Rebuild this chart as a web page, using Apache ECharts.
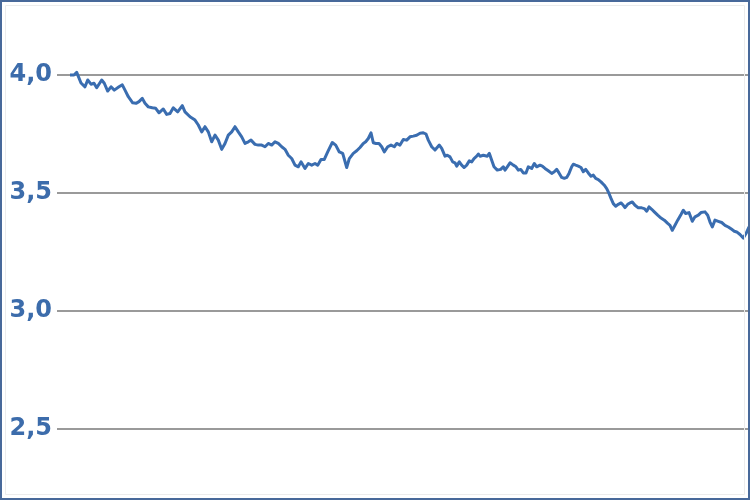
<!DOCTYPE html>
<html>
<head>
<meta charset="utf-8">
<script src="https://cdn.jsdelivr.net/npm/echarts@6/dist/echarts.min.js"></script>
<style>
html,body{margin:0;padding:0;background:#fff;}
#chart{width:750px;height:500px;}
</style>
</head>
<body>
<div id="chart"></div>
<script>
// time index (trading days) and values
const days = [13,17,19.7,24,28,30.7,34,37,39.7,44.7,47.3,50.7,54,57.3,62,65.3,68,71.3,75.7,79,82,85.3,88,91.3,95.3,98.7,102,106.3,109.7,113,116.3,120.7,125.3,
128,133,138,141.3,144.7,148,151.3,154.7,158,161.3,164.7,168,171.3,174.7,178,181.3,184.7,188,191.3,194,198,201.3,204.7,208,211.3,214.7,218,221.3,224.7,228,231.3,234.7,238,
241.3,244,248,251.3,254.7,258,260.7,264,267.3,270.7,275.3,278.7,282.3,285.7,289.7,292.3,296.3,299.7,303,306.3,308.7,311.3,314,316.3,319,322,324.7,327.3,330.7,334,337.3,339.7,343,346.3,349.7,353,356.3,
359.7,363,366.3,369,371.3,374.7,378,379.7,382.3,384.7,388,390.3,393,395.7,398,399.7,402.3,404.7,407,409.7,412.3,414.7,417,419.7,421.3,423,426.3,430.3,432.3,434.7,437,440.3,443.7,446.3,448,450.3,453,456.3,459,461.3,463.7,466.3,469,471.3,
473,474.7,477.3,479.7,483,485.3,488,491.3,494.7,497.3,499.7,502,504.7,507.3,509.7,512,514.7,516.3,518.7,521.3,524,526.3,528.7,531.3,534,536.3,538.7,541.3,544,547.3,549.7,552,554,556.3,558.7,561.3,564,566.3,568,570.7,573,575.3,578,
581.3,584.7,587.3,589.7,592,594.7,597.3,600.7,604,607.3,610.7,613,615.3,618,620.7,624,626.3,628.7,632,635.3,638,641.3,644,648,650.7,653,655.3,658,661.3,664.7,668,671.3,674.7,677.3,679.7,683,686.3,689,692];
const values = [4.000,4.000,4.011,3.966,3.950,3.979,3.961,3.965,3.946,3.979,3.965,3.932,3.950,3.936,3.950,3.958,3.936,3.908,3.882,3.880,3.887,3.901,3.880,3.865,3.861,3.859,3.840,3.856,3.833,3.837,3.861,3.844,3.870,
3.844,3.823,3.809,3.788,3.759,3.781,3.759,3.717,3.745,3.724,3.685,3.710,3.745,3.759,3.781,3.759,3.738,3.710,3.717,3.724,3.706,3.703,3.703,3.696,3.710,3.703,3.717,3.710,3.696,3.685,3.660,3.646,3.618,
3.611,3.632,3.604,3.625,3.618,3.625,3.618,3.642,3.642,3.674,3.714,3.703,3.674,3.668,3.608,3.646,3.668,3.679,3.693,3.710,3.717,3.731,3.755,3.713,3.710,3.710,3.696,3.674,3.696,3.703,3.696,3.710,3.703,3.727,3.724,3.738,3.741,
3.745,3.753,3.755,3.750,3.724,3.696,3.682,3.685,3.703,3.689,3.656,3.660,3.653,3.632,3.628,3.614,3.632,3.618,3.608,3.618,3.636,3.632,3.646,3.656,3.665,3.656,3.660,3.656,3.668,3.639,3.611,3.597,3.600,3.611,3.597,3.611,3.628,3.618,3.611,3.597,3.600,3.585,3.585,3.611,
3.618,3.604,3.625,3.611,3.618,3.614,3.604,3.594,3.583,3.590,3.600,3.585,3.566,3.562,3.566,3.583,3.611,3.622,3.618,3.614,3.608,3.590,3.600,3.585,3.571,3.576,3.562,3.557,3.547,3.533,3.519,3.498,3.477,3.455,3.444,3.452,3.458,3.448,3.438,3.452,3.458,3.462,3.448,
3.437,3.437,3.434,3.423,3.441,3.431,3.420,3.406,3.394,3.385,3.371,3.363,3.342,3.363,3.385,3.409,3.427,3.413,3.417,3.380,3.399,3.406,3.417,3.420,3.406,3.377,3.356,3.385,3.380,3.375,3.363,3.356,3.346,3.338,3.335,3.324,3.309,3.328,3.356];
const yTickValues = [2.5, 3.0, 3.5, 4.0];
const yTickLabels = ['2,5', '3,0', '3,5', '4,0'];

const seriesData = days.map((d, i) => [d, values[i]]);

const chart = echarts.init(document.getElementById('chart'), null, {renderer: 'canvas'});
chart.setOption({
  animation: false,
  backgroundColor: '#ffffff',
  grid: {left: 57, right: 0, top: 75, bottom: 71, containLabel: false},
  xAxis: {
    type: 'value', min: 0, max: 693,
    show: true,
    axisLine: {show: false}, axisTick: {show: false}, axisLabel: {show: false},
    splitLine: {show: false}
  },
  yAxis: {
    type: 'value', min: 2.5, max: 4.0, interval: 0.5,
    axisLine: {show: false}, axisTick: {show: false},
    axisLabel: {
      margin: 5,
      color: '#3c6cab',
      fontFamily: 'DejaVu Sans',
      fontWeight: 'bold',
      fontSize: 24,
      formatter: function (v) {
        const i = yTickValues.findIndex(t => Math.abs(t - v) < 1e-6);
        return i >= 0 ? yTickLabels[i] : '';
      }
    },
    splitLine: {show: true, lineStyle: {color: '#9a9a9a', width: 2}}
  },
  series: [{
    type: 'line',
    data: seriesData,
    showSymbol: false,
    clip: false,
    lineStyle: {color: '#3a6db0', width: 3, join: 'round'},
    itemStyle: {color: '#3a6db0'}
  }],
  graphic: [
    {type: 'rect', z: 100, silent: true, shape: {x: 5.5, y: 5.5, width: 739, height: 489},
     style: {fill: 'none', stroke: '#ececec', lineWidth: 1}},
    {type: 'rect', z: 101, silent: true, shape: {x: 1, y: 1, width: 748, height: 498},
     style: {fill: 'none', stroke: '#48699a', lineWidth: 2}}
  ]
});
</script>
</body>
</html>
